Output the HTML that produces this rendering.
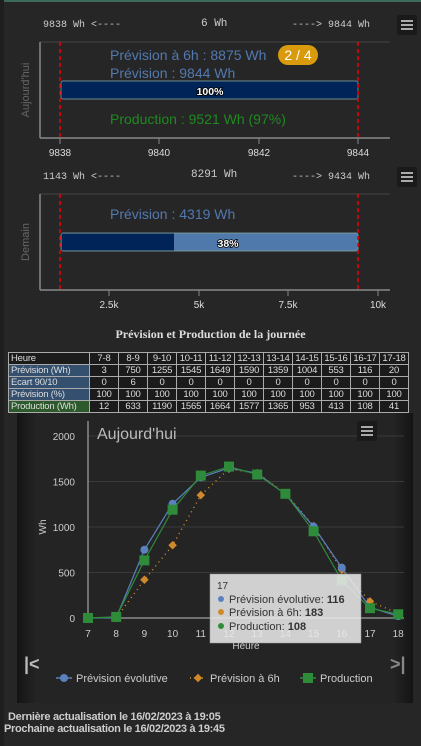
<!DOCTYPE html>
<html><head><meta charset="utf-8"><style>
body{margin:0;width:421px;height:746px;background:#262626;overflow:hidden;font-family:"Liberation Sans",sans-serif;position:relative}
.abs{position:absolute}
.mono{font-family:"Liberation Mono",monospace;font-size:10px;color:#ccc}
table{border-collapse:collapse;font-size:9.5px;color:#ddd;table-layout:fixed}
td{border:1px solid #aaa;padding:0;height:11px;line-height:11px;text-align:center;background:#1b1b1b;width:28px;white-space:nowrap;overflow:hidden;letter-spacing:-0.2px}
td.l{text-align:left;width:78px;padding-left:2px}
.menu{position:absolute;width:20px;height:20px;background:#1a1a1a;border-radius:2px}
.menu i{position:absolute;left:4px;width:12px;height:2px;background:#aaa}
</style></head><body>
<div class="abs" style="left:0;top:0;width:421px;height:2px;background:#3e6a5c"></div>
<div class="abs" style="left:0;top:0;width:4px;height:746px;background:#1e1e1e"></div>

<div class="abs mono" style="left:43px;top:20px">9838 Wh &lt;----</div>
<div class="abs mono" style="left:201px;top:18px;font-size:11px">6 Wh</div>
<div class="abs mono" style="left:292px;top:20px">----&gt; 9844 Wh</div>
<div class="menu" style="left:397px;top:15px"><i style="top:5px"></i><i style="top:9px"></i><i style="top:13px"></i></div>
<svg class="abs" style="left:0;top:0" width="421" height="320">
<line x1="40" y1="42" x2="390" y2="42" stroke="#444"/>
<line x1="40" y1="42" x2="40" y2="138" stroke="#888" stroke-width="1.5"/>
<line x1="40" y1="138" x2="390" y2="138" stroke="#888" stroke-width="1.5"/>
<text x="29" y="90" fill="#666" font-size="11" transform="rotate(-90 29 90)" text-anchor="middle">Aujourd'hui</text>
<rect x="61" y="81" width="297" height="18" rx="2" fill="#002457" stroke="#8aa" stroke-width="0.7"/>
<text x="210" y="95" fill="#fff" font-size="10.5" font-weight="bold" text-anchor="middle" stroke="#000" stroke-width="1.6" paint-order="stroke">100%</text>
<line x1="60" y1="42" x2="60" y2="138" stroke="#e00" stroke-width="1.5" stroke-dasharray="4,3"/>
<line x1="358" y1="42" x2="358" y2="138" stroke="#e00" stroke-width="1.5" stroke-dasharray="4,3"/>
<text x="110" y="60" fill="#5279b0" font-size="14">Prévision à 6h : 8875 Wh</text>
<rect x="278" y="45" width="40" height="20" rx="10" fill="#d99a0c"/>
<text x="298" y="60" fill="#fff" font-size="14" text-anchor="middle">2 / 4</text>
<text x="110" y="78" fill="#5279b0" font-size="14">Prévision : 9844 Wh</text>
<text x="110" y="124" fill="#1f8a1f" font-size="14">Production : 9521 Wh (97%)</text>
<g fill="#ddd" font-size="10" text-anchor="middle">
<line x1="60" y1="138" x2="60" y2="144" stroke="#888"/><text x="60" y="156">9838</text>
<line x1="159" y1="138" x2="159" y2="144" stroke="#888"/><text x="159" y="156">9840</text>
<line x1="259" y1="138" x2="259" y2="144" stroke="#888"/><text x="259" y="156">9842</text>
<line x1="358" y1="138" x2="358" y2="144" stroke="#888"/><text x="358" y="156">9844</text>
</g>
<line x1="40" y1="194" x2="390" y2="194" stroke="#444"/>
<line x1="40" y1="194" x2="40" y2="290" stroke="#888" stroke-width="1.5"/>
<line x1="40" y1="290" x2="390" y2="290" stroke="#888" stroke-width="1.5"/>
<text x="29" y="242" fill="#666" font-size="11" transform="rotate(-90 29 242)" text-anchor="middle">Demain</text>
<rect x="61" y="233" width="297" height="18" rx="2" fill="#4f78ab" stroke="#8aa" stroke-width="0.7"/>
<rect x="61.5" y="233.5" width="112.5" height="17" fill="#002457"/>
<text x="228" y="247" fill="#fff" font-size="10.5" font-weight="bold" text-anchor="middle" stroke="#000" stroke-width="1.6" paint-order="stroke">38%</text>
<line x1="60" y1="194" x2="60" y2="290" stroke="#e00" stroke-width="1.5" stroke-dasharray="4,3"/>
<line x1="358" y1="194" x2="358" y2="290" stroke="#e00" stroke-width="1.5" stroke-dasharray="4,3"/>
<text x="110" y="219" fill="#5279b0" font-size="14">Prévision : 4319 Wh</text>
<g fill="#ddd" font-size="10" text-anchor="middle">
<line x1="109" y1="290" x2="109" y2="296" stroke="#888"/><text x="109" y="308">2.5k</text>
<line x1="199" y1="290" x2="199" y2="296" stroke="#888"/><text x="199" y="308">5k</text>
<line x1="288" y1="290" x2="288" y2="296" stroke="#888"/><text x="288" y="308">7.5k</text>
<line x1="378" y1="290" x2="378" y2="296" stroke="#888"/><text x="378" y="308">10k</text>
</g>
</svg>
<div class="abs mono" style="left:43px;top:172px">1143 Wh &lt;----</div>
<div class="abs mono" style="left:191px;top:169px;font-size:11px">8291 Wh</div>
<div class="abs mono" style="left:292px;top:172px">----&gt; 9434 Wh</div>
<div class="menu" style="left:397px;top:167px"><i style="top:5px"></i><i style="top:9px"></i><i style="top:13px"></i></div>

<div class="abs" style="left:0;width:421px;top:327px;text-align:center;font-family:'Liberation Serif',serif;font-weight:bold;font-size:12px;color:#ddd">Prévision et Production de la journée</div>
<table class="abs" style="left:8px;top:352px;width:401px">
<colgroup><col style="width:81px"><col span="11" style="width:29px"></colgroup>
<tr><td class="l">Heure</td><td>7-8</td><td>8-9</td><td>9-10</td><td>10-11</td><td>11-12</td><td>12-13</td><td>13-14</td><td>14-15</td><td>15-16</td><td>16-17</td><td>17-18</td></tr>
<tr><td class="l" style="background:#34506e">Prévision (Wh)</td><td>3</td><td>750</td><td>1255</td><td>1545</td><td>1649</td><td>1590</td><td>1359</td><td>1004</td><td>553</td><td>116</td><td>20</td></tr>
<tr><td class="l" style="background:#34506e">Ecart 90/10</td><td>0</td><td>6</td><td>0</td><td>0</td><td>0</td><td>0</td><td>0</td><td>0</td><td>0</td><td>0</td><td>0</td></tr>
<tr><td class="l" style="background:#34506e">Prévision (%)</td><td>100</td><td>100</td><td>100</td><td>100</td><td>100</td><td>100</td><td>100</td><td>100</td><td>100</td><td>100</td><td>100</td></tr>
<tr><td class="l" style="background:#2c5a2c">Production (Wh)</td><td>12</td><td>633</td><td>1190</td><td>1565</td><td>1664</td><td>1577</td><td>1365</td><td>953</td><td>413</td><td>108</td><td>41</td></tr>
</table>

<div class="abs" style="left:17px;top:413px;width:396px;height:290px;background:linear-gradient(90deg,#141414 0,#242424 20px,#242424 376px,#141414 396px)"></div>
<svg id="ch" class="abs" style="left:0;top:0" width="421" height="746"></svg>
<div class="menu" style="left:357px;top:421px"><i style="top:5px"></i><i style="top:9px"></i><i style="top:13px"></i></div>
<div class="abs" style="left:7px;top:711px;font-size:11px;font-weight:bold;color:#ccc;line-height:12px;letter-spacing:-0.3px"><div style="padding-left:1px">Dernière actualisation le 16/02/2023 à 19:05</div><div style="margin-left:-3px">Prochaine actualisation le 16/02/2023 à 19:45</div></div>

<script>
const hours=[7,8,9,10,11,12,13,14,15,16,17,18];
const prevEvol=[0,3,750,1255,1545,1649,1590,1359,1004,553,116,20];
const prev6h=[null,0,420,800,1350,1640,1590,1370,1010,530,183,50];
const production=[0,12,633,1190,1565,1664,1577,1365,953,413,108,41];
const yTicks=[0,500,1000,1500,2000];
const NS='http://www.w3.org/2000/svg';
const svg=document.getElementById('ch');
const X=h=>88+(h-7)*28.2;
const Y=v=>618-v*0.091;
function mk(t,a,txt){const e=document.createElementNS(NS,t);for(const k in a)e.setAttribute(k,a[k]);if(txt!=null)e.textContent=txt;svg.appendChild(e);return e;}
yTicks.forEach(v=>{
 const g=mk('line',{x1:88,x2:404,y1:Y(v),y2:Y(v),stroke:v?'#3a3a3a':'#bbb'});
 
 
 const t=mk('text',{x:75,y:Y(v)+4,fill:'#ccc','font-size':10,'text-anchor':'end'},v);
 
 
});
mk('line',{x1:88,x2:88,y1:421,y2:618,stroke:'#bbb'});
hours.forEach(h=>{const t=mk('text',{x:X(h),y:637,fill:'#ccc','font-size':10,'text-anchor':'middle'},h);
 
 });
let t=mk('text',{x:246,y:649,fill:'#ccc','font-size':10,'text-anchor':'middle'},'Heure');


t=mk('text',{x:46,y:527,fill:'#ccc','font-size':10,'text-anchor':'middle',transform:'rotate(-90 46 527)'},'Wh');


t=mk('text',{x:97,y:439,fill:'#bbb','font-size':16},"Aujourd'hui");


function series(vals,color,dash,shape,name){
 const pts=[];vals.forEach((v,i)=>{if(v!=null)pts.push([X(hours[i]),Y(v)]);});
 const p=mk('polyline',{points:pts.map(p=>p.join(',')).join(' '),fill:'none',stroke:color,'stroke-width':dash?1.5:1.2,'stroke-dasharray':dash||'none'});
 
 
 pts.forEach(([x,y])=>{let m;
  if(shape==='c')m=mk('circle',{cx:x,cy:y,r:4,fill:color});
  else if(shape==='d')m=mk('rect',{x:x-3,y:y-3,width:6,height:6,fill:color,transform:`rotate(45 ${x} ${y})`});
  else m=mk('rect',{x:x-5,y:y-5,width:10,height:10,fill:color});
  
  });
}
series(prev6h,'#d08a2c','1,4','d','prevision-6h');
series(prevEvol,'#5b80c0',null,'c','prevision-evolutive');
series(production,'#2e8b3a',null,'s','production');
const tg=mk('g',{});


mk('rect',{x:210,y:574,width:151,height:69,fill:'rgba(232,232,232,0.88)',stroke:'#999','stroke-width':0.5});
mk('text',{x:217,y:589,'font-size':10,fill:'#333'},'17');
[['#5b80c0','Prévision évolutive: ','116',603],['#d08a2c','Prévision à 6h: ','183',616],['#2e8b3a','Production: ','108',630]].forEach(([c,l,v,y])=>{
 mk('circle',{cx:221,cy:y-4,r:3,fill:c});
 const tt=mk('text',{x:229,y:y,'font-size':11,fill:'#333'},l);
 const b=document.createElementNS(NS,'tspan');b.setAttribute('font-weight','bold');b.textContent=v;tt.appendChild(b);
});
let nb=mk('text',{x:24,y:670,fill:'#bbb','font-size':18,'font-weight':'bold'},'|<');


nb=mk('text',{x:390,y:670,fill:'#888','font-size':18,'font-weight':'bold'},'>|');


[[56,'#5b80c0','c','Prévision évolutive'],[190,'#d08a2c','d','Prévision à 6h'],[300,'#2e8b3a','s','Production']].forEach(([x,c,s,l])=>{
 mk('line',{x1:x,x2:x+16,y1:678,y2:678,stroke:c,'stroke-width':1.5,'stroke-dasharray':s==='d'?'1,3':'none'});
 if(s==='c')mk('circle',{cx:x+8,cy:678,r:4,fill:c});
 else if(s==='d')mk('rect',{x:x+5,y:675,width:6,height:6,fill:c,transform:`rotate(45 ${x+8} 678)`});
 else mk('rect',{x:x+3,y:673,width:10,height:10,fill:c});
 const e=mk('text',{x:x+20,y:682,fill:'#ccc','font-size':11},l);
 
 
});
</script>
</body></html>
